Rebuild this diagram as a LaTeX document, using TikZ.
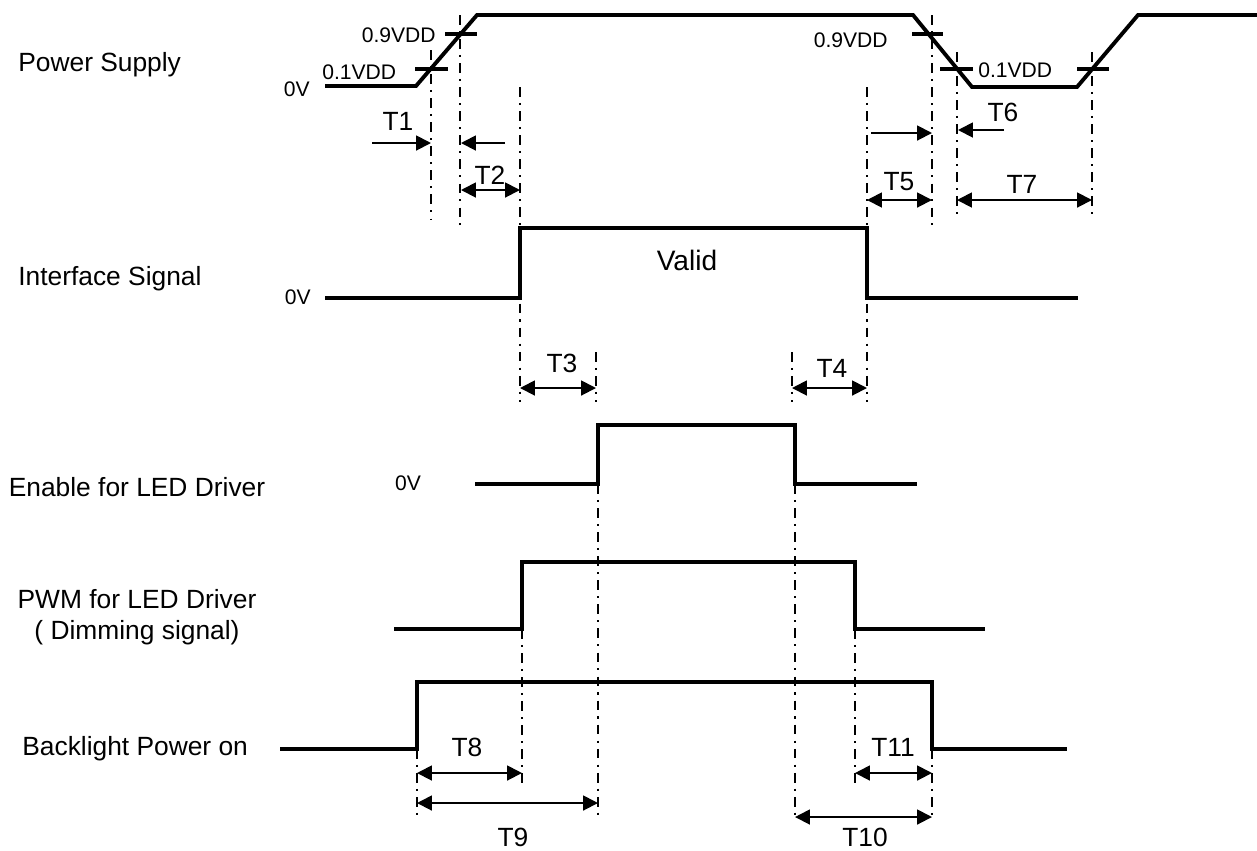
\documentclass[tikz,border=0pt]{standalone}
\usepackage{fontspec}
\setmainfont{Liberation Sans}
\usetikzlibrary{arrows.meta}

\begin{document}
\begin{tikzpicture}[
  x=0.02cm, y=-0.02cm,
  sig/.style={line width=2.2pt},
  guide/.style={line width=1.2pt, dash pattern=on 5.5pt off 3.5pt on 1.2pt off 3.5pt},
  dim/.style={line width=1.1pt, -{Triangle[length=8.5pt, width=8.5pt]}},
  span/.style={line width=1.1pt, {Triangle[length=8.5pt, width=8.5pt]}-{Triangle[length=8.5pt, width=8.5pt]}},
  lab/.style={inner sep=0pt, font=\fontsize{15}{18}\selectfont},
  lvl/.style={inner sep=0pt, font=\fontsize{12}{14}\selectfont},
]
  \useasboundingbox (0,0) rectangle (1257,850);

  % row labels
  \node[lab, anchor=west] (ps) at (18,65) {Power Supply};
  \node[lab, anchor=west] (ifs) at (18,279) {Interface Signal};
  \node[lab] (en) at (137,487) {Enable for LED Driver};
  \node[lab, align=center] (pwm) at (137,617) {PWM for LED Driver\\( Dimming signal)};
  \node[lab, anchor=west] (bl) at (22,749) {Backlight Power on};

  % power supply
  \node[lvl, anchor=east] (ps0) at (310,89) {0V};
  \node[lvl, anchor=west] (v1a) at (322,72) {0.1VDD};
  \node[lvl, anchor=east] (v9a) at (436,35) {0.9VDD};
  \node[lvl, anchor=east] (v9b) at (888,40) {0.9VDD};
  \node[lvl, anchor=west] (v1b) at (978,70) {0.1VDD};
  \draw[sig] (325,86) -- (416,86) -- (477,15) -- (913,15) -- (972,87) -- (1077,87) -- (1138,15) -- (1257,15);
  \draw[sig] (415,69) -- (448,69);
  \draw[sig] (445,34) -- (477,34);
  \draw[sig] (912,34) -- (943,34);
  \draw[sig] (940,69) -- (973,69);
  \draw[sig] (1077,69) -- (1109,69);
  \draw[guide] (431,50) -- (431,220);
  \draw[guide] (460,15) -- (460,225);
  \draw[guide] (520,87) -- (520,402);
  \draw[guide] (867,87) -- (867,402);
  \draw[guide] (932,15) -- (932,225);
  \draw[guide] (957,52) -- (957,220);
  \draw[guide] (1092,52) -- (1092,220);
  \node[lab] (t1) at (398,121) {T1};
  \draw[dim] (372,143) -- (431,143);
  \draw[dim] (505,143) -- (461,143);
  \node[lab] (t2) at (490,175) {T2};
  \draw[span] (461,190) -- (520,190);
  \draw[dim] (871,133) -- (932,133);
  \node[lab] (t5) at (899,182) {T5};
  \draw[span] (867,200) -- (932,200);
  \node[lab] (t6) at (1003,112) {T6};
  \draw[dim] (1004,130) -- (958,130);
  \node[lab] (t7) at (1022,184) {T7};
  \draw[span] (957,200) -- (1092,200);

  % interface signal
  \node[lvl, anchor=east] (if0) at (311,297) {0V};
  \draw[sig] (325,298) -- (520,298) -- (520,228) -- (867,228) -- (867,298) -- (1078,298);
  \node[lab, font=\fontsize{16}{18}\selectfont] (valid) at (687,260) {Valid};
  \draw[guide] (596,352) -- (596,402);
  \draw[guide] (792,352) -- (792,402);
  \node[lab] (t3) at (562,363) {T3};
  \draw[span] (520,388) -- (596,388);
  \node[lab] (t4) at (832,368) {T4};
  \draw[span] (792,388) -- (867,388);

  % enable
  \node[lvl] (en0) at (408,483) {0V};
  \draw[sig] (475,484) -- (598,484) -- (598,425) -- (795,425) -- (795,484) -- (917,484);
  \draw[guide] (598,484) -- (598,817);
  \draw[guide] (795,484) -- (795,817);

  % pwm
  \draw[sig] (394,629) -- (522,629) -- (522,562) -- (855,562) -- (855,629) -- (985,629);
  \draw[guide] (522,629) -- (522,787);
  \draw[guide] (855,629) -- (855,787);

  % backlight
  \draw[sig] (280,749) -- (417,749) -- (417,682) -- (932,682) -- (932,749) -- (1067,749);
  \draw[guide] (417,749) -- (417,817);
  \draw[guide] (932,749) -- (932,817);
  \node[lab] (t8) at (467,747) {T8};
  \draw[span] (417,773) -- (522,773);
  \node[lab] (t9) at (513,837) {T9};
  \draw[span] (417,803) -- (598,803);
  \node[lab] (t10) at (865,837) {T10};
  \draw[span] (795,817) -- (932,817);
  \node[lab] (t11) at (893,747) {T11};
  \draw[span] (855,773) -- (932,773);
\end{tikzpicture}
\end{document}
